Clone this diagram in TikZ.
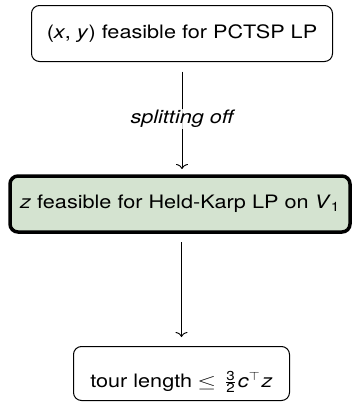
\documentclass[tikz,border=0pt]{standalone}
\usepackage{amsmath}
\usepackage{fontspec}
\setmainfont{TeX Gyre Heros}[FakeStretch=1.17]
\usetikzlibrary{arrows.meta}
\definecolor{boxgreen}{RGB}{212,227,208}
\newcommand{\wideleq}{\scalebox{1.4}[1]{$\leq$}}
\newcommand{\widetop}{\scalebox{1.17}[1]{$\scriptstyle\top$}}
\tikzset{
  box/.style={draw=black, line width=1pt, rounded corners=8pt, fill=white, outer sep=0pt,
    font=\fontsize{18.5}{22}\selectfont, inner xsep=4pt},
  keybox/.style={box, line width=3.5pt, fill=boxgreen},
  flow/.style={line width=0.9pt, -{To[length=5pt,width=12pt]}},
  edgelabel/.style={fill=white, fill opacity=0.85, text opacity=1, inner sep=1pt,
    font=\fontsize{18.5}{22}\selectfont\itshape},
}
\begin{document}
\begin{tikzpicture}[x=1pt,y=-1pt]
\useasboundingbox (0,0) rectangle (353,402);
\node[box, minimum width=301pt, minimum height=56pt] (a) at (182,33.5)
  {(\textit{x}, \textit{y}) feasible for PCTSP LP};
\node[keybox, minimum width=340pt, minimum height=56pt] (b) at (180,204)
  {\textit{z} feasible for Held-Karp LP on \textit{V}$_{\text{1}}$};
\node[box, minimum width=216pt, minimum height=54pt, inner ysep=4.5pt, text height=36pt, text depth=9pt] (c) at (181.5,373.5)
  {tour length\hspace{5pt}\wideleq\hspace{9pt}$\tfrac{\text{3}}{\text{2}}$\hspace{2pt}\textit{c}\raisebox{7pt}{\widetop}\hspace{2pt}\textit{z}};
\draw[flow, shorten <=10pt, shorten >=7pt] (a.south) -- (a.south |- b.north)
  node[midway, edgelabel] (lab) {splitting off};
\draw[flow, shorten <=10pt, shorten >=9.5pt] (c.north |- b.south) -- (c.north);
\end{tikzpicture}
\end{document}
